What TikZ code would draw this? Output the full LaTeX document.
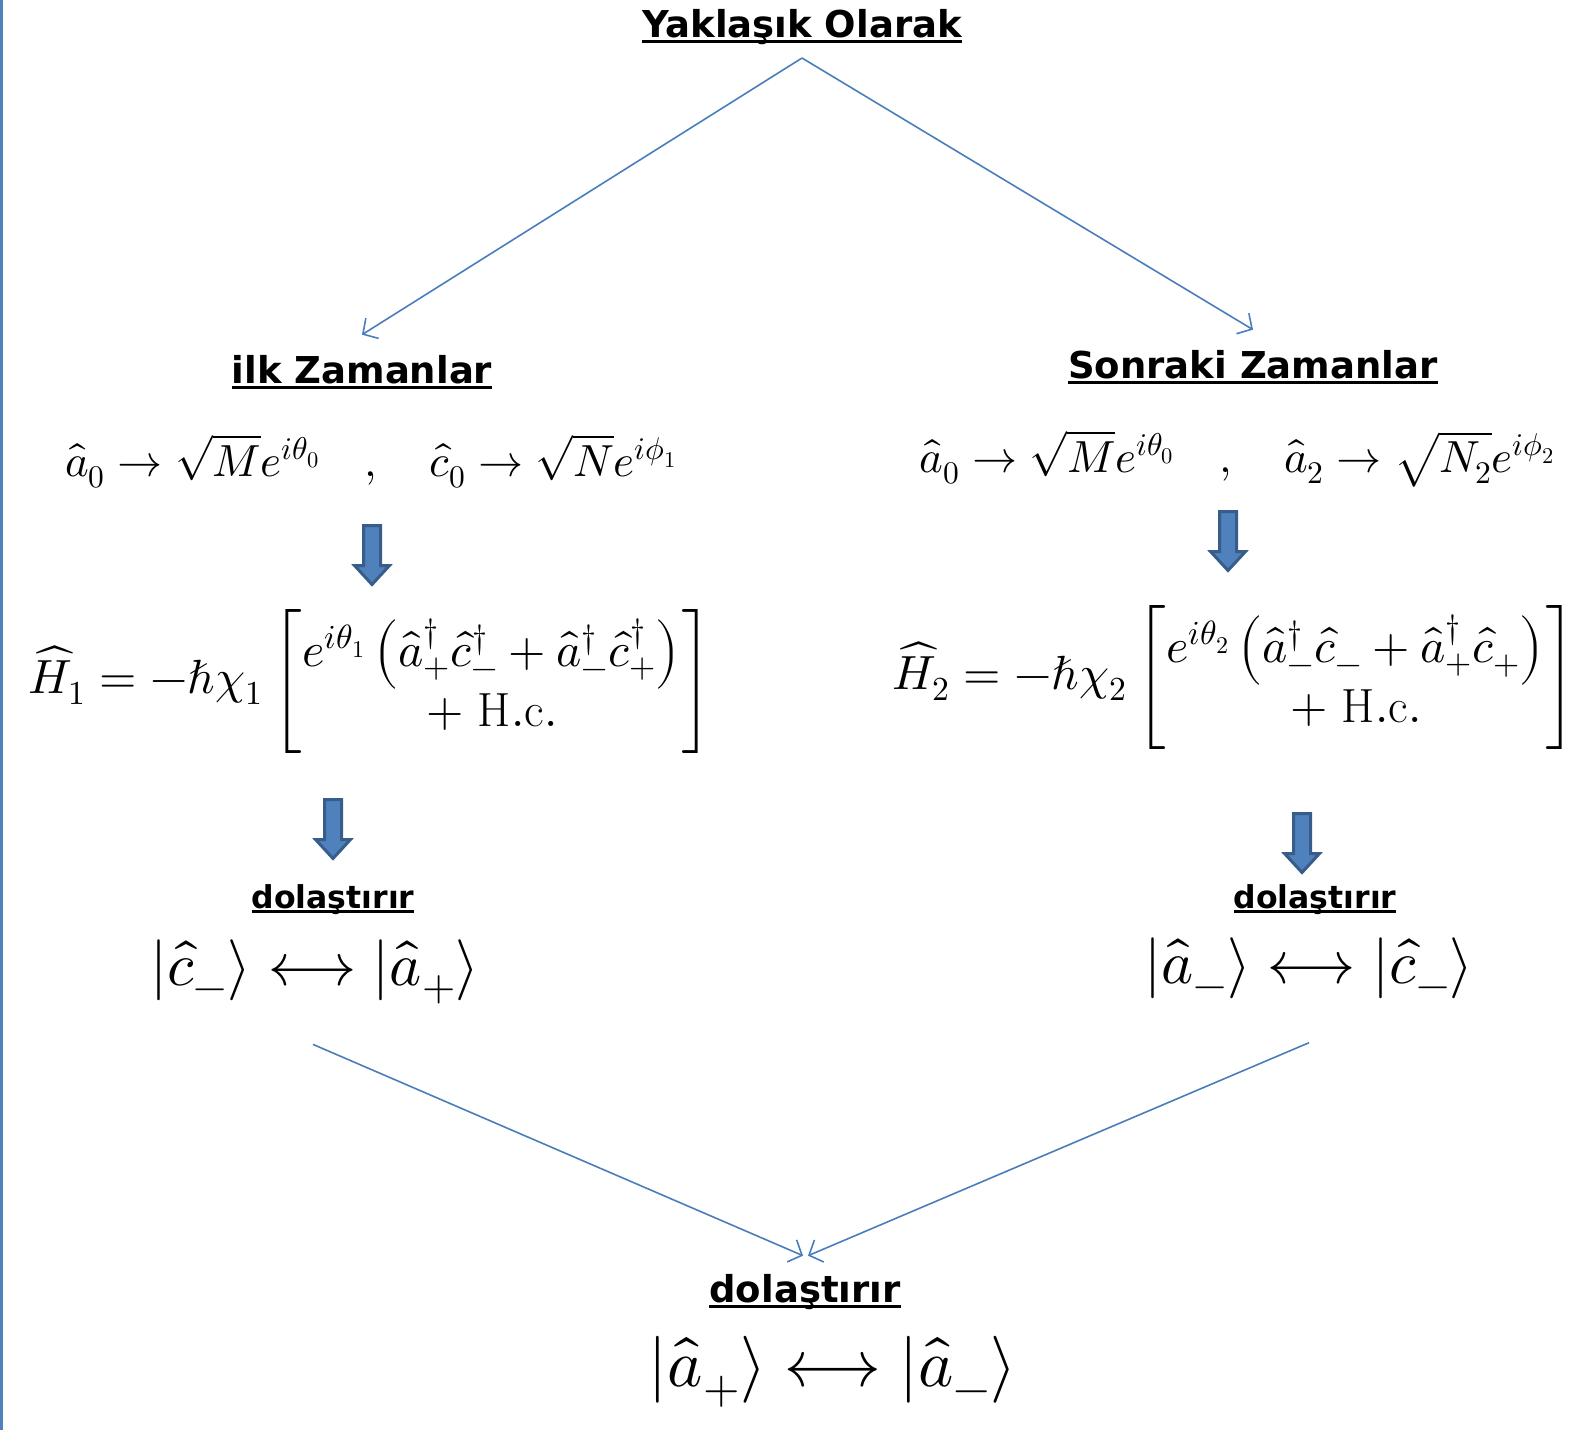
\documentclass[tikz,border=0pt]{standalone}
\usepackage{fontspec}
\usepackage{amsmath}
\usepackage{unicode-math}
\setmathfont{Latin Modern Math}
\newfontfamily\headfont{DejaVu Sans}
\usetikzlibrary{arrows.meta}
\definecolor{LinkBlue}{HTML}{4A7EBB}
\definecolor{BlockFill}{HTML}{4F81BD}
\definecolor{BlockEdge}{HTML}{385D8A}
% underlined heading text
\newcommand{\headline}[1]{\sbox0{#1}\rlap{\rule[-0.16em]{\wd0}{0.085em}}\usebox0}

\tikzset{
  heading/.style={inner sep=0pt, anchor=base,
    font=\headfont\bfseries\fontsize{37}{40}\selectfont},
  subhead/.style={heading, font=\headfont\bfseries\fontsize{31.5}{34}\selectfont},
  formula/.style={inner sep=0pt, font=\fontsize{45}{50}\selectfont},
  hamilton/.style={inner sep=0pt, font=\fontsize{48}{54}\selectfont},
  ketline/.style={inner sep=0pt, font=\fontsize{61}{66}\selectfont},
  link/.style={LinkBlue, line width=1.6pt, -{Straight Barb[length=11pt,width=24pt]}},
  fatarrow/.pic={
    \filldraw[draw=BlockEdge, fill=BlockFill, line width=3pt]
      (-8.5,0) -- (8.5,0) -- (8.5,40) -- (17.5,40) -- (0,59)
      -- (-17.5,40) -- (-8.5,40) -- cycle;
  }
}

\begin{document}
\begin{tikzpicture}[x=1pt, y=-1pt]
  \useasboundingbox (0,0) rectangle (1575,1430);
  \draw[BlockFill, line width=3pt] (1.5,0) -- (1.5,1430);

  % ========== top ==========
  \node[heading] (title) at (802,37) {\headline{Yaklaşık Olarak}};
  \coordinate (apex) at (802,58);

  % ========== left branch ==========
  \node[heading] (ilk) at (362,383) {\headline{ilk Zamanlar}};
  \node[formula, anchor=base] (eqL) at (371,476)
    {$\hat{a}_0 \to \sqrt{M}e^{i\theta_0} \quad , \quad \hat{c}_0 \to \sqrt{N}e^{i\phi_1}$};
  \pic at (372,525.5) {fatarrow};
  \node[hamilton] (hamL) at (371,681)
    {$\widehat{H}_1 = -\hbar\chi_1 \left[\begin{matrix}
       e^{i\theta_1}\left(\hat{a}_+^\dagger\hat{c}_-^\dagger + \hat{a}_-^\dagger\hat{c}_+^\dagger\right)\\
       +\ \mathrm{H.c.}\end{matrix}\right]$};
  \pic at (333,799.5) {fatarrow};
  \node[subhead] (dolL) at (333,908) {\headline{dolaştırır}};
  \node[ketline] (ketL) at (315,972)
    {$\lvert\hat{c}_-\rangle \longleftrightarrow \lvert\hat{a}_+\rangle$};

  % ========== right branch ==========
  \node[heading] (sonra) at (1253,378) {\headline{Sonraki Zamanlar}};
  \node[formula, anchor=base] (eqR) at (1237,472)
    {$\hat{a}_0 \to \sqrt{M}e^{i\theta_0} \quad , \quad \hat{a}_2 \to \sqrt{N_2}e^{i\phi_2}$};
  \pic at (1228,511.5) {fatarrow};
  \node[hamilton] (hamR) at (1235,677)
    {$\widehat{H}_2 = -\hbar\chi_2 \left[\begin{matrix}
       e^{i\theta_2}\left(\hat{a}_-^\dagger\hat{c}_- + \hat{a}_+^\dagger\hat{c}_+\right)\\
       +\ \mathrm{H.c.}\end{matrix}\right]$};
  \pic at (1302,813.5) {fatarrow};
  \node[subhead] (dolR) at (1315,908) {\headline{dolaştırır}};
  \node[ketline] (ketR) at (1309,968)
    {$\lvert\hat{a}_-\rangle \longleftrightarrow \lvert\hat{c}_-\rangle$};

  % ========== bottom ==========
  \node[heading] (dolB) at (805,1302) {\headline{dolaştırır}};
  \node[ketline, font=\fontsize{67}{72}\selectfont] (ketB) at (833,1372)
    {$\lvert\hat{a}_+\rangle \longleftrightarrow \lvert\hat{a}_-\rangle$};

  % connectors
  \draw[link] (apex) -- ([yshift=20pt]ilk.north);
  \draw[link] (apex) -- ([yshift=20pt]sonra.north);
  \draw[link] ([xshift=-2pt,yshift=-40pt]ketL.south) -- ([xshift=-2pt,yshift=18pt]dolB.north);
  \draw[link] ([yshift=-44pt]ketR.south) -- ([xshift=3pt,yshift=18pt]dolB.north);
\end{tikzpicture}
\end{document}
